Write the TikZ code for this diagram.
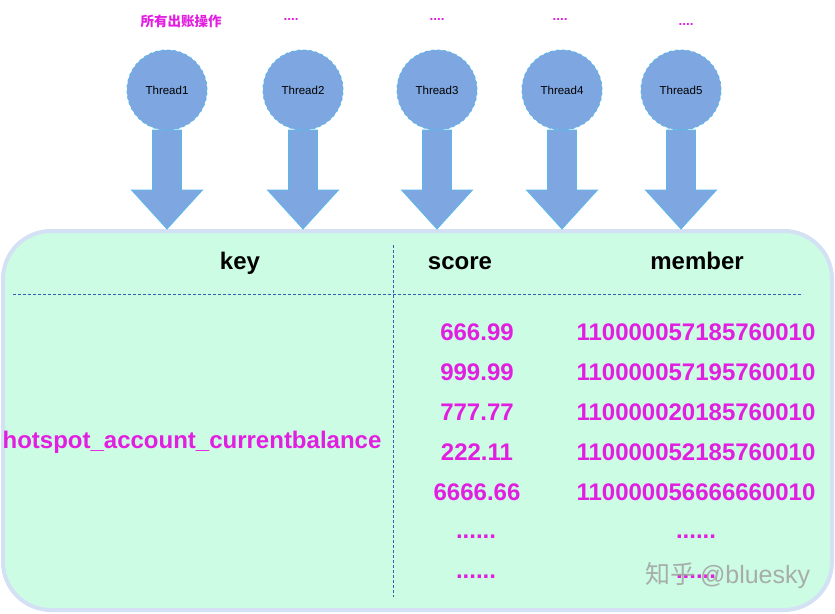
\documentclass[tikz,border=0pt]{standalone}
\usepackage{fontspec}
\setmainfont{Liberation Sans}
\newfontfamily\cjkfont{Noto Sans CJK SC}
\usetikzlibrary{positioning}
\definecolor{mag}{RGB}{226,30,224}
\definecolor{thr}{RGB}{126,166,224}
\definecolor{thrline}{RGB}{90,185,235}
\definecolor{boxfill}{RGB}{204,252,228}
\definecolor{boxline}{RGB}{212,225,245}
\definecolor{dashcol}{RGB}{50,95,175}
\definecolor{wm}{RGB}{160,160,160}
\tikzset{
  thread/.style={circle,fill=thr,draw=thrline,dashed,line width=1pt,minimum size=80pt,inner sep=0pt,font=\fontsize{11.5}{13}\selectfont},
  blockarrow/.style={fill=thr,draw=thrline,line width=0.8pt},
  hdr/.style={anchor=base,font=\fontsize{24}{28}\selectfont\bfseries,text=black,inner sep=0pt},
  val/.style={anchor=base,font=\fontsize{24}{28}\selectfont\bfseries,text=mag,inner sep=0pt},
  toplab/.style={anchor=base,font=\fontsize{13.5}{15}\selectfont\bfseries,text=mag,inner sep=0pt},
  sep/.style={draw=dashcol,line width=0.7pt,dash pattern=on 3pt off 2pt},
}
\begin{document}
\begin{tikzpicture}[x=1pt,y=-1pt]
\useasboundingbox (0,0) rectangle (835,613);
% main box
\draw[fill=boxfill,draw=boxline,line width=4pt,rounded corners=48pt] (3,231) rectangle (832,610);
% threads and arrows
\foreach \n/\x in {1/167,2/303,3/437,4/562,5/681}{
  \node[thread] (t\n) at (\x,90) {Thread\n};
  \draw[blockarrow] (\x-14.5,130) -- (\x+14.5,130) -- (\x+14.5,190) -- (\x+35.5,190)
     -- (\x,229) -- (\x-35.5,190) -- (\x-14.5,190) -- cycle;
}
% top labels
\node[anchor=base,inner sep=0pt,text=mag,font=\cjkfont\fontsize{13.5}{15}\selectfont\bfseries] (op) at (181,26) {所有出账操作};
\node[toplab] (d2) at (291,20) {....};
\node[toplab] (d3) at (437,20) {....};
\node[toplab] (d4) at (560,20) {....};
\node[toplab] (d5) at (686,25) {....};
% separators
\coordinate (hl) at (13,294);
\coordinate (hr) at (803,294);
\coordinate (vt) at (393,245);
\coordinate (vb) at (393,597);
\draw[sep] (hl) -- (hr);
\draw[sep] (vt) -- (vb);
% headers
\node[hdr] (hkey) at (240,269) {key};
\node[hdr] (hscore) at (460,269) {score};
\node[hdr] (hmember) at (697,269) {member};
% key
\node[val] (key) at (192,448) {hotspot\_account\_currentbalance};
% rows
\foreach \i/\y/\s/\m in {1/340/666.99/110000057185760010,
                         2/380/999.99/110000057195760010,
                         3/420/777.77/110000020185760010,
                         4/460/222.11/110000052185760010,
                         5/500/6666.66/110000056666660010}{
  \node[val] (s\i) at (477,\y) {\s};
  \node[val] (m\i) at (696,\y) {\m};
}
\node[val] (s6) at (476,538) {......};
\node[val] (m6) at (696,538) {......};
\node[val] (s7) at (476,578) {......};
\node[val] (m7) at (696,578) {......};
% watermark
\node[anchor=base,inner sep=0pt,text=wm,opacity=0.85,font=\fontsize{25}{28}\selectfont] (wmk) at (728,583) {{\cjkfont 知乎}\,@bluesky};
\end{tikzpicture}
\end{document}
